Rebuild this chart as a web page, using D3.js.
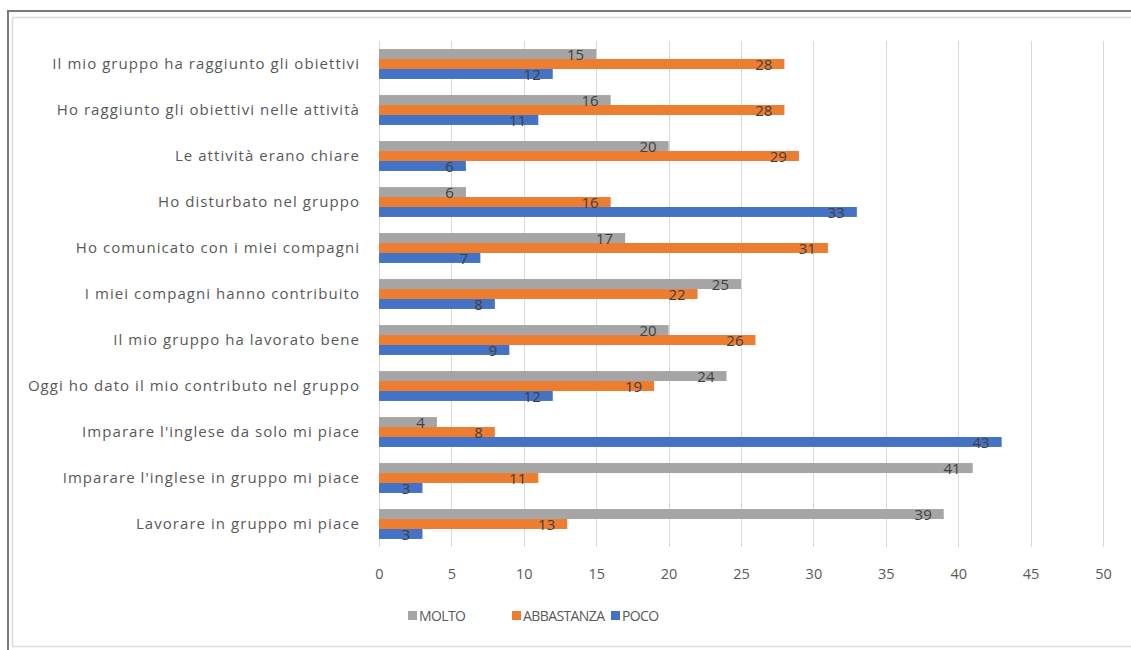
<!DOCTYPE html>
<html>
<head>
<meta charset="utf-8">
<script src="https://cdn.jsdelivr.net/npm/d3@7"></script>
<style>
  html, body { margin: 0; padding: 0; background: #fff; }
  svg { display: block; font-family: "Open Sans", "Noto Sans", sans-serif; }
</style>
</head>
<body>
<svg id="chart" width="1131" height="650"></svg>
<script>
// Survey answers per statement (top to bottom as drawn)
const categories = [
  "Il mio gruppo ha raggiunto gli obiettivi",
  "Ho raggiunto gli obiettivi nelle attività",
  "Le attività erano chiare",
  "Ho disturbato nel gruppo",
  "Ho comunicato con i miei compagni",
  "I miei compagni hanno contribuito",
  "Il mio gruppo ha lavorato bene",
  "Oggi ho dato il mio contributo nel gruppo",
  "Imparare l'inglese da solo mi piace",
  "Imparare l'inglese in gruppo mi piace",
  "Lavorare in gruppo mi piace"
];
const molto      = [15, 16, 20, 6, 17, 25, 20, 24, 4, 41, 39];
const abbastanza = [28, 28, 29, 16, 31, 22, 26, 19, 8, 11, 13];
const poco       = [12, 11, 6, 33, 7, 8, 9, 12, 43, 3, 3];
const seriesNames = ["MOLTO", "ABBASTANZA", "POCO"];
const xTicks = [0, 5, 10, 15, 20, 25, 30, 35, 40, 45, 50];

const seriesValues = [molto, abbastanza, poco];
const colors = ["#A5A5A5", "#ED7D31", "#4472C4"];

const svg = d3.select("#chart");

// Frame
svg.append("line").attr("x1", 8).attr("x2", 1131).attr("y1", 11).attr("y2", 11)
  .attr("stroke", "#7a7a7a").attr("stroke-width", 2);
svg.append("line").attr("x1", 8).attr("x2", 8).attr("y1", 10).attr("y2", 650)
  .attr("stroke", "#7a7a7a").attr("stroke-width", 2);
svg.append("rect").attr("x", 12.5).attr("y", 17.5).attr("width", 1130).attr("height", 629)
  .attr("fill", "none").attr("stroke", "#dcdcdc").attr("stroke-width", 1.5);

const plot = { left: 379, right: 1103, top: 41, bottom: 547 };

const x = d3.scaleLinear().domain([0, 50]).range([plot.left, plot.right]);
const y = d3.scaleBand().domain(categories).range([plot.top, plot.bottom])
  .paddingInner(0.35).paddingOuter(0.175);
const ySub = d3.scaleBand().domain(seriesNames).range([0, y.bandwidth()]);

// Vertical gridlines
svg.append("g").selectAll("line").data(xTicks).join("line")
  .attr("x1", d => Math.round(x(d)) + 0.5).attr("x2", d => Math.round(x(d)) + 0.5)
  .attr("y1", plot.top).attr("y2", plot.bottom)
  .attr("stroke", "#d9d9d9").attr("stroke-width", 1);

// X axis tick labels
const xAxis = d3.axisBottom(x).tickValues(xTicks).tickSize(0).tickPadding(0);
const gx = svg.append("g").attr("transform", `translate(0, ${plot.bottom + 22})`).call(xAxis);
gx.select(".domain").remove();
gx.selectAll("text").attr("font-size", 14.5).attr("fill", "#595959")
  .attr("font-family", "'Open Sans', sans-serif");

// Category labels
const yAxis = d3.axisLeft(y).tickSize(0).tickPadding(0);
const gy = svg.append("g").attr("transform", `translate(${plot.left - 19}, 0)`).call(yAxis);
gy.select(".domain").remove();
gy.selectAll("text").attr("font-size", 15).attr("fill", "#595959")
  .attr("letter-spacing", 1.05)
  .attr("font-family", "'Open Sans', sans-serif");

// Bars
const rows = [];
categories.forEach((c, i) => {
  seriesNames.forEach((s, j) => rows.push({ cat: c, series: s, value: seriesValues[j][i], color: colors[j] }));
});

svg.append("g").selectAll("rect").data(rows).join("rect")
  .attr("x", x(0))
  .attr("y", d => y(d.cat) + ySub(d.series))
  .attr("width", d => x(d.value) - x(0))
  .attr("height", ySub.bandwidth())
  .attr("fill", d => d.color);

// Value labels at inside end
svg.append("g").selectAll("text").data(rows).join("text")
  .attr("x", d => x(d.value) - 12)
  .attr("y", d => y(d.cat) + ySub(d.series) + ySub.bandwidth() / 2)
  .attr("dy", "0.38em")
  .attr("text-anchor", "end")
  .attr("font-size", 15)
  .attr("fill", "#404040")
  .text(d => d.value);

// Legend
const legendX = [408, 512, 611];
const legend = svg.append("g").selectAll("g").data(seriesNames).join("g")
  .attr("transform", (d, i) => `translate(${legendX[i]}, 616)`);
legend.append("rect").attr("x", 0).attr("y", -5).attr("width", 9).attr("height", 9)
  .attr("fill", (d, i) => colors[i]);
legend.append("text").attr("x", 11).attr("y", 0).attr("dy", "0.36em")
  .attr("font-size", 14).attr("letter-spacing", -0.6).attr("fill", "#595959").text(d => d);
</script>
</body>
</html>
